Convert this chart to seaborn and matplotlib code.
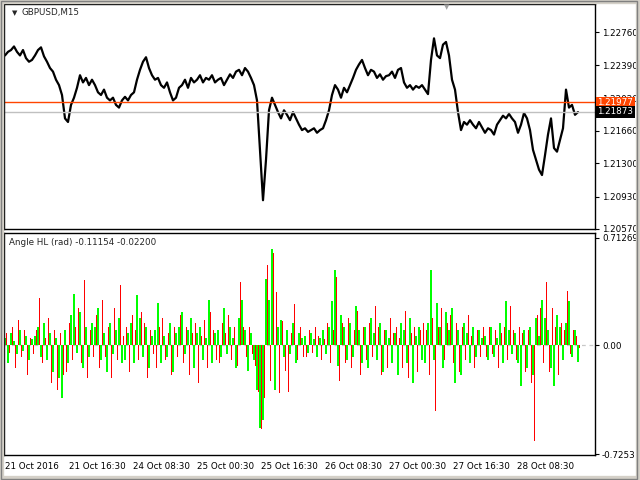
import matplotlib
matplotlib.use("Agg")
import matplotlib.pyplot as plt
import seaborn as sns
import numpy as np
import pandas as pd
from matplotlib.patches import Rectangle

# ---------------- data ----------------
symbol_title = "GBPUSD,M15"
ind_title = "Angle HL (rad) -0.11154 -0.02200"

# close prices, one value every 3rd M15 bar
close = [
    1.2250, 1.2254, 1.2256, 1.2260, 1.2254, 1.2250, 1.2256, 1.2247, 1.2243, 1.2245,
    1.2250, 1.2256, 1.2259, 1.2249, 1.2243, 1.2236, 1.2232, 1.2223, 1.2217, 1.2206,
    1.2180, 1.2176, 1.2195, 1.2203, 1.2214, 1.2228, 1.2220, 1.2225, 1.2217, 1.2223,
    1.2217, 1.2209, 1.2206, 1.2212, 1.2203, 1.2200, 1.2203, 1.2195, 1.2192, 1.2200,
    1.2204, 1.2200, 1.2206, 1.2209, 1.2223, 1.2234, 1.2243, 1.2248, 1.2236, 1.2228,
    1.2223, 1.2225, 1.2217, 1.2214, 1.2220, 1.2209, 1.2200, 1.2203, 1.2214, 1.2217,
    1.2223, 1.2214, 1.2225, 1.2220, 1.2223, 1.2228, 1.2220, 1.2225, 1.2223, 1.2228,
    1.2220, 1.2223, 1.2225, 1.2217, 1.2223, 1.2229, 1.2225, 1.2232, 1.2234, 1.2228,
    1.2236, 1.2232, 1.2225, 1.2217, 1.2200, 1.2145, 1.2089, 1.2134, 1.2189, 1.2203,
    1.2195, 1.2187, 1.2180, 1.2189, 1.2184, 1.2178, 1.2187, 1.2180, 1.2173, 1.2167,
    1.2169, 1.2165, 1.2167, 1.2169, 1.2164, 1.2167, 1.2169, 1.2178, 1.2189, 1.2206,
    1.2217, 1.2212, 1.2203, 1.2214, 1.2209, 1.2217, 1.2225, 1.2234, 1.2240, 1.2245,
    1.2236, 1.2228, 1.2234, 1.2232, 1.2225, 1.2229, 1.2223, 1.2227, 1.2228, 1.2232,
    1.2225, 1.2234, 1.2236, 1.2220, 1.2214, 1.2217, 1.2212, 1.2216, 1.2214, 1.2217,
    1.2212, 1.2207, 1.2245, 1.2269, 1.2250, 1.2247, 1.2262, 1.2265, 1.2250, 1.2223,
    1.2212, 1.2187, 1.2167, 1.2176, 1.2173, 1.2178, 1.2173, 1.2169, 1.2176, 1.2170,
    1.2164, 1.2169, 1.2167, 1.2162, 1.2173, 1.2178, 1.2183, 1.2180, 1.2185, 1.2180,
    1.2176, 1.2164, 1.2173, 1.2186, 1.2180, 1.2167, 1.2145, 1.2134, 1.2123, 1.2117,
    1.2139, 1.2162, 1.2180, 1.2147, 1.2143, 1.2156, 1.2169, 1.2212, 1.2192, 1.2195,
    1.2184, 1.2187,
]

angle_green = [
    0.05, -0.12, 0.08, 0.03, -0.06, 0.10, -0.04, 0.06, -0.10, 0.04,
    0.06, 0.12, -0.08, 0.15, -0.10, 0.08, -0.18, 0.05, -0.22, -0.35,
    0.10, -0.12, 0.20, 0.34, -0.05, 0.22, -0.15, 0.12, -0.08, 0.15,
    0.12, 0.25, -0.10, 0.08, -0.18, 0.15, -0.06, 0.10, 0.18, -0.12,
    -0.10, 0.08, 0.15, -0.12, 0.33, 0.18, -0.08, 0.12, -0.15, 0.06,
    0.10, 0.28, -0.12, 0.06, -0.08, 0.15, -0.18, 0.08, 0.12, 0.22,
    -0.06, 0.10, 0.18, -0.15, 0.08, 0.12, -0.10, 0.05, 0.30, -0.12,
    0.08, 0.10, -0.08, 0.25, -0.06, 0.12, 0.05, -0.15, 0.18, 0.30,
    0.10, -0.17, 0.08, -0.10, -0.30, -0.55, -0.50, 0.44, 0.30, 0.64,
    -0.30, 0.12, 0.17, -0.08, 0.10, -0.06, 0.15, -0.12, 0.08, 0.05,
    0.06, -0.05, 0.08, 0.04, -0.08, 0.05, 0.10, -0.06, 0.12, 0.29,
    0.50, -0.14, 0.20, 0.12, -0.10, 0.15, -0.08, 0.26, 0.10, -0.12,
    0.12, -0.15, 0.18, 0.08, -0.10, 0.15, -0.18, 0.10, 0.05, -0.12,
    0.08, -0.20, 0.15, 0.10, -0.12, 0.18, -0.25, 0.06, 0.12, -0.10,
    -0.12, 0.15, 0.50, -0.10, 0.28, 0.12, -0.15, 0.22, 0.10, 0.25,
    -0.25, 0.10, -0.20, 0.15, 0.08, -0.12, 0.12, -0.08, 0.10, 0.05,
    0.06, -0.10, 0.12, -0.08, 0.05, 0.15, -0.12, 0.29, 0.10, -0.06,
    0.08, -0.12, -0.27, 0.10, -0.15, 0.12, -0.20, 0.18, 0.06, 0.30,
    0.18, 0.10, -0.15, -0.27, 0.20, 0.12, -0.10, 0.15, 0.29, -0.08,
    0.10, -0.11154,
]

angle_red = [
    0.08, -0.05, 0.12, -0.15, 0.17, -0.08, 0.10, -0.20, 0.05, -0.06,
    0.10, 0.31, -0.12, 0.05, 0.18, -0.25, 0.10, -0.30, 0.08, -0.20,
    -0.18, 0.15, -0.10, 0.12, 0.25, -0.12, 0.43, -0.22, 0.10, -0.08,
    0.20, -0.15, 0.30, -0.08, 0.12, -0.22, 0.25, -0.10, 0.40, 0.06,
    0.12, -0.18, 0.20, 0.10, -0.10, 0.22, 0.15, -0.22, 0.10, -0.06,
    -0.15, 0.12, 0.18, -0.10, 0.08, -0.20, 0.12, -0.08, 0.20, -0.12,
    0.12, -0.20, 0.08, 0.15, -0.25, 0.06, 0.17, -0.15, 0.22, 0.10,
    -0.10, -0.12, 0.15, 0.08, 0.20, -0.10, 0.12, -0.14, 0.42, 0.12,
    -0.08, 0.12, -0.06, -0.14, -0.31, -0.56, -0.35, 0.53, -0.24, 0.61,
    0.35, -0.32, 0.16, -0.17, -0.31, 0.08, 0.27, -0.10, 0.12, -0.08,
    -0.08, 0.10, -0.05, 0.12, 0.06, -0.10, 0.04, 0.15, -0.12, 0.10,
    0.45, -0.24, 0.15, -0.12, 0.18, -0.15, 0.10, 0.23, -0.20, 0.12,
    -0.10, 0.15, -0.08, 0.26, 0.12, -0.20, 0.10, -0.15, 0.18, 0.08,
    0.12, 0.05, -0.15, 0.23, -0.22, 0.08, 0.12, -0.18, 0.10, 0.15,
    0.10, -0.20, 0.18, -0.44, 0.12, 0.25, -0.10, 0.15, 0.20, -0.12,
    0.15, -0.18, 0.12, -0.10, 0.20, 0.06, -0.15, 0.10, -0.08, 0.12,
    -0.08, 0.12, -0.06, 0.10, -0.15, 0.08, 0.12, -0.10, 0.26, 0.10,
    -0.10, 0.12, 0.08, -0.18, 0.10, -0.25, -0.64, 0.20, 0.25, -0.12,
    0.42, -0.18, 0.25, 0.12, -0.20, 0.15, 0.10, 0.36, -0.06, 0.10,
    0.06, -0.02200,
]

bar_step = 3
bar_index = [i * bar_step for i in range(len(close))]

price_ticks = [1.22760, 1.22390, 1.22020, 1.21660, 1.21300, 1.20930, 1.20570]
price_ylim = (1.20570, 1.23072)
level_orange = 1.21977
level_bid = 1.21873

ind_ticks = [0.71269, 0.0, -0.7253]
ind_tick_labels = ["0.71269", "0.00", "-0.7253"]
ind_ylim = (-0.730, 0.745)

time_tick_bars = [0, 64, 128, 192, 256, 320, 384, 448, 512]
time_tick_labels = ["21 Oct 2016", "21 Oct 16:30", "24 Oct 08:30", "25 Oct 00:30",
                    "25 Oct 16:30", "26 Oct 08:30", "27 Oct 00:30", "27 Oct 16:30",
                    "28 Oct 08:30"]

# ---------------- figure ----------------
sns.set_style("white")
plt.rcParams['font.family'] = ['DejaVu Sans']
FS = 6.3

fig = plt.figure(figsize=(6.4, 4.8), dpi=100)
W, H = 640.0, 480.0
ax1 = fig.add_axes([4 / W, 1 - 229 / H, 591 / W, 225 / H])
ax2 = fig.add_axes([4 / W, 1 - 455 / H, 591 / W, 222 / H])

xlim = (-1, 590)

# price panel
df_p = pd.DataFrame({"bar": bar_index, "close": close})
sns.lineplot(data=df_p, x="bar", y="close", color="black", linewidth=1.6, ax=ax1)
ax1.axhline(level_orange, color="#FF4500", linewidth=1.0)
ax1.axhline(level_bid, color="#C0C0C0", linewidth=1.0)
ax1.set_xlim(*xlim)
ax1.set_ylim(*price_ylim)
ax1.set_xticks([])
ax1.yaxis.tick_right()
ax1.set_yticks(price_ticks)
ax1.set_yticklabels([f"{t:.5f}" for t in price_ticks], fontsize=FS)
ax1.tick_params(axis="y", direction="out", length=3, width=0.8, pad=2, colors="black")
ax1.set_xlabel("")
ax1.set_ylabel("")

for lv, fc in [(level_orange, "#FF4500"), (level_bid, "black")]:
    ax1.text(1.004, lv, f"{lv:.5f}", transform=ax1.get_yaxis_transform(),
             fontsize=FS, color="white", va="center", ha="left",
             bbox=dict(boxstyle="square,pad=0.15", fc=fc, ec="none"), zorder=10,
             clip_on=False)

ax1.text(8 / 591, 1 - 9 / 225, "\u25BC", transform=ax1.transAxes, fontsize=5,
         va="center", ha="left")
ax1.text(18 / 591, 1 - 9 / 225, symbol_title, transform=ax1.transAxes,
         fontsize=FS, va="center", ha="left")
# chart-shift marker on the top edge
ax1.text(443 / 591, 1.0, "\u25BC", transform=ax1.transAxes, fontsize=5,
         color="#A0A0A0", va="top", ha="center", clip_on=False)

# indicator panel
df_g = pd.DataFrame({"bar": bar_index, "val": angle_green})
df_r = pd.DataFrame({"bar": [b + 1.5 for b in bar_index], "val": angle_red})
ax2.axhline(0, color="#C8C8C8", linewidth=0.9, linestyle=(0, (3, 3)), zorder=0)
sns.barplot(data=df_g, x="bar", y="val", native_scale=True, width=0.56,
            color="#00FF00", saturation=1, linewidth=0, errorbar=None, ax=ax2)
sns.barplot(data=df_r, x="bar", y="val", native_scale=True, width=0.56,
            color="#FF0000", saturation=1, linewidth=0, errorbar=None, ax=ax2)
ax2.set_xlim(*xlim)
ax2.set_ylim(*ind_ylim)
ax2.yaxis.tick_right()
ax2.set_yticks(ind_ticks)
ax2.set_yticklabels(ind_tick_labels, fontsize=FS)
ax2.tick_params(axis="y", direction="out", length=3, width=0.8, pad=2, colors="black")
ax2.set_xticks(time_tick_bars)
ax2.set_xticklabels(time_tick_labels, fontsize=FS, ha="left")
ax2.tick_params(axis="x", direction="out", length=3, width=0.8, pad=2, colors="black")
ax2.set_xlabel("")
ax2.set_ylabel("")
ax2.text(5 / 591, 1 - 10 / 222, ind_title, transform=ax2.transAxes,
         fontsize=FS, va="center", ha="left")

for ax in (ax1, ax2):
    for s in ax.spines.values():
        s.set_visible(True)
        s.set_color("black")
        s.set_linewidth(1.0)

# window frame
fig.patches.append(Rectangle((0, 0), 1, 1, transform=fig.transFigure,
                             fill=False, edgecolor="#D4D0C8", linewidth=6))
fig.patches.append(Rectangle((1 / W, 1 / H), 1 - 4 / W, 1 - 2 / H,
                             transform=fig.transFigure, fill=False,
                             edgecolor="#808080", linewidth=1))

fig.savefig("out.png", dpi=100)
